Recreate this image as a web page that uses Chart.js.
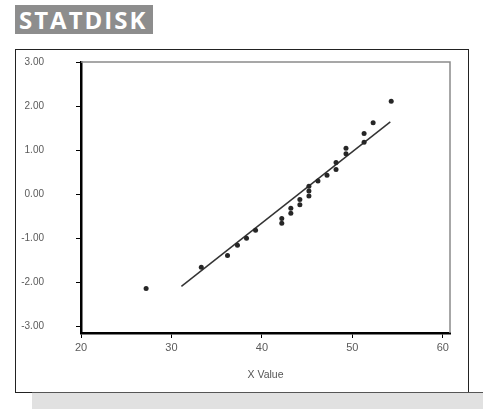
<!DOCTYPE html>
<html>
<head>
<meta charset="utf-8">
<script src="https://cdn.jsdelivr.net/npm/chart.js@4.4.1/dist/chart.umd.min.js"></script>
<style>
  html, body { margin: 0; padding: 0; background: #fff; }
  #wrap { position: relative; width: 483px; height: 409px; overflow: hidden; }
  #badge { position: absolute; left: 15px; top: 5px; width: 138px; height: 29px; background: #8d8d8d;
           color: #fff; font: bold 24px "Open Sans", sans-serif; letter-spacing: 2px; line-height: 30px; text-indent: 4px;
           white-space: nowrap; overflow: hidden; }
  #frame { position: absolute; left: 15px; top: 49px; width: 452px; height: 342px; border: 1px solid #222; }
  #foot { position: absolute; left: 32px; top: 392px; width: 451px; height: 17px; background: #e1e1e1; border-top: 1px solid #555; }
  canvas { position: absolute; left: 0; top: 0; }
</style>
</head>
<body>
<div id="wrap">
  <div id="badge">STATDISK</div>
  <div id="frame"></div>
  <div id="foot"></div>
  <canvas id="canvas1" width="483" height="409"></canvas>
</div>
<script>
// 데이터 (x 값, 정규 점수)
var xValues = [27.2, 33.3, 36.2, 37.3, 38.3, 39.3, 42.2, 42.2, 43.2, 43.2, 44.2, 44.2, 45.2, 45.2, 45.2,
               46.2, 47.2, 48.2, 48.2, 49.3, 49.3, 51.3, 51.3, 52.3, 54.3];
var zScores = [-2.14, -1.66, -1.39, -1.16, -1.0, -0.82, -0.66, -0.55, -0.43, -0.32, -0.24, -0.12, -0.04, 0.07, 0.18,
               0.30, 0.43, 0.56, 0.72, 0.92, 1.04, 1.18, 1.38, 1.62, 2.11];
var lineX = [31.1, 54.2];
var lineY = [-2.09, 1.64];
var xTicks = [20, 30, 40, 50, 60];
var yTicks = [-3, -2, -1, 0, 1, 2, 3];

var points = xValues.map(function (x, i) { return { x: x, y: zScores[i] }; });
var fitLine = lineX.map(function (x, i) { return { x: x, y: lineY[i] }; });

// 위/오른쪽 테두리
var frameLines = {
    id: 'frameLines',
    afterDraw: function (chart) {
        var a = chart.chartArea, c = chart.ctx;
        c.save();
        c.strokeStyle = '#8a8a8a';
        c.lineWidth = 1.5;
        c.beginPath();
        c.moveTo(a.left, a.top);
        c.lineTo(a.right, a.top);
        c.lineTo(a.right, a.bottom);
        c.stroke();
        c.restore();
    }
};

var ctx = document.getElementById('canvas1').getContext('2d');
var chart = new Chart(ctx, {
    type: 'scatter',
    data: {
        datasets: [{
            data: points,
            backgroundColor: '#262626',
            borderColor: '#262626',
            pointRadius: 2.5,
            pointBorderWidth: 0
        }, {
            data: fitLine,
            showLine: true,
            borderColor: '#333',
            borderWidth: 1.5,
            pointRadius: 0
        }]
    },
    options: {
        responsive: false,
        animation: false,
        layout: { padding: { left: 0, top: 62, right: 33, bottom: 0 } },
        plugins: { legend: { display: false }, tooltip: { enabled: false } },
        scales: {
            x: {
                type: 'linear',
                min: 20,
                max: 60.8,
                afterBuildTicks: function (s) { s.ticks = xTicks.map(function (v) { return { value: v }; }); },
                afterFit: function (s) { s.height = 76; },
                grid: { drawOnChartArea: false, color: '#000', tickLength: 5 },
                border: { color: '#000', width: 2.5 },
                ticks: { color: '#5a5a5a', font: { family: 'Liberation Sans', size: 11 }, padding: 3, maxRotation: 0 },
                title: { display: true, text: 'X Value', color: '#555', font: { family: 'Liberation Sans', size: 10.5 },
                         padding: { top: 0, bottom: 28 } }
            },
            y: {
                min: -3.15,
                max: 3,
                afterBuildTicks: function (s) { s.ticks = yTicks.map(function (v) { return { value: v }; }); },
                afterFit: function (s) { s.width = 81; },
                grid: { drawOnChartArea: false, color: '#000', tickLength: 5 },
                border: { color: '#000', width: 2.5 },
                ticks: { color: '#5a5a5a', font: { family: 'Liberation Sans', size: 10 }, padding: 32,
                         callback: function (v) { return v.toFixed(2); } }
            }
        }
    },
    plugins: [frameLines]
});
</script>
</body>
</html>
